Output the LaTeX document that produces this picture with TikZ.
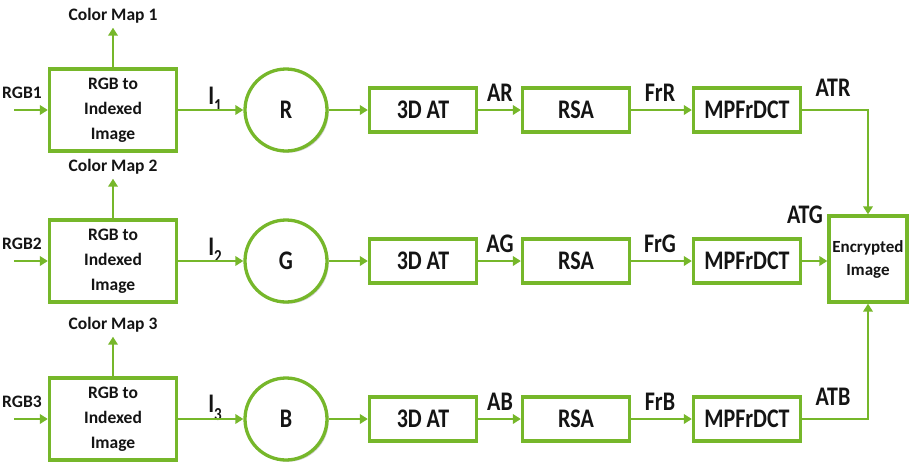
\documentclass[tikz,border=0pt]{standalone}
\usepackage{fontspec}
\setmainfont{Carlito}
\usetikzlibrary{arrows.meta,shadows}
\definecolor{lgreen}{RGB}{118,183,42}
\definecolor{txt}{RGB}{20,20,20}
\newcommand{\stx}[1]{\scalebox{1}[1.22]{#1}}
\newcommand{\subi}[1]{I\raisebox{-6pt}{\fontsize{15}{15}\selectfont #1}}
\begin{document}
\begin{tikzpicture}[x=1pt,y=-1pt,
  shd/.style={drop shadow={shadow xshift=1.8pt,shadow yshift=-1.8pt,opacity=0.3,fill=black!60}},
  conv/.style={draw=lgreen,line width=3.3pt,fill=white,shd,inner sep=0pt,
    minimum width=127pt,minimum height=82pt,align=center,
    font=\fontsize{17.5}{25}\selectfont\bfseries,text=txt},
  chan/.style={circle,draw=lgreen,line width=3.3pt,fill=white,shd,inner sep=0pt,
    minimum size=82pt,font=\fontsize{22}{22}\selectfont\bfseries,text=txt},
  blk/.style={draw=lgreen,line width=3.3pt,fill=white,shd,inner sep=0pt,
    minimum width=107pt,minimum height=44pt,font=\fontsize{22}{22}\selectfont\bfseries,text=txt},
  encb/.style={draw=lgreen,line width=3.3pt,fill=white,shd,inner sep=0pt,
    minimum width=78pt,minimum height=86pt,align=center,
    font=\fontsize{17}{23}\selectfont\bfseries,text=txt},
  lbl/.style={inner sep=0pt,font=\fontsize{22}{22}\selectfont\bfseries,text=txt},
  slbl/.style={inner sep=4pt,font=\fontsize{17.5}{17.5}\selectfont\bfseries,text=txt},
  arr/.style={draw=lgreen,line width=2.8pt,-{Triangle[length=8pt,width=9.5pt]}},
  ln/.style={draw=lgreen,line width=2.8pt}]
\useasboundingbox (0,0) rectangle (911,464);

% Encrypted image
\node[encb] (enc) at (868,259) {Encrypted\\Image};

% ---- rows
\foreach \r/\y/\c/\ch/\in/\a/\f in {1/110/R/R/1/AR/FrR, 2/261/G/G/2/AG/FrG, 3/419/B/B/3/AB/FrB}{
  \node[conv] (rgb\r) at (113,\y) {RGB to\\Indexed\\Image};
  \node[chan] (ch\r) at (286,\y) {\stx{\ch}};
  \node[blk] (at\r) at (423,\y) {\stx{3D AT}};
  \node[blk] (rsa\r) at (576,\y) {\stx{RSA}};
  \node[blk] (mp\r) at (747,\y) {\stx{MPFrDCT}};
  \coordinate (in\r) at (14,\y);
  \node[slbl,inner sep=0pt] (rl\r) at (22,\y-17) {RGB\r};
  \node[slbl] (cm\r) at (113,\y-94) {Color Map \r};
  \node[lbl] (il\r) at (215,\y-11) {\stx{\subi{\in}}};
  \node[lbl] (al\r) at (500,\y-17) {\stx{\a}};
  \node[lbl] (fl\r) at (660,\y-17) {\stx{\f}};
  \draw[arr] (in\r) -- (rgb\r.west);
  \draw[arr] (rgb\r.north) -- (cm\r.south);
  \draw[arr] (rgb\r.east) -- (ch\r.west);
  \draw[arr] (ch\r.east) -- (at\r.west);
  \draw[arr] (at\r.east) -- (rsa\r.west);
  \draw[arr] (rsa\r.east) -- (mp\r.west);
}

% outputs to encrypted image
\node[lbl] (atr) at (833,88) {\stx{ATR}};
\node[lbl] (atg) at (805,215) {\stx{ATG}};
\node[lbl] (atb) at (833,397) {\stx{ATB}};
\draw[arr] (mp1.east) -- (enc.north |- mp1.east) -- (enc.north);
\draw[arr] (mp2.east) -- (enc.west |- mp2.east);
\draw[arr] (mp3.east) -- (enc.south |- mp3.east) -- (enc.south);
\end{tikzpicture}
\end{document}
